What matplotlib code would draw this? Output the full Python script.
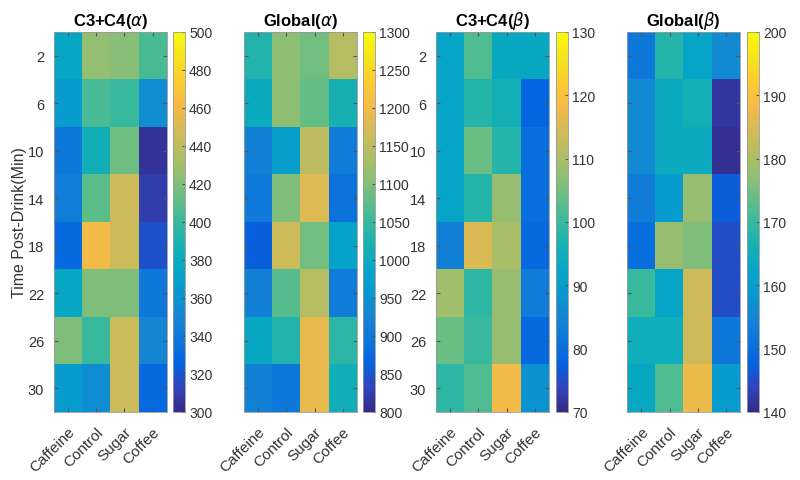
import numpy as np
import matplotlib
matplotlib.use('Agg')
import matplotlib.pyplot as plt
from matplotlib.colors import LinearSegmentedColormap

plt.rcParams['font.family'] = ['Liberation Sans', 'DejaVu Sans']

# data
drinks = ['Caffeine', 'Control', 'Sugar', 'Coffee']
times = [2, 6, 10, 14, 18, 22, 26, 30]

c34_alpha = [[375, 425, 422, 405],
             [365, 405, 400, 355],
             [340, 385, 415, 305],
             [345, 410, 445, 310],
             [330, 460, 445, 318],
             [375, 420, 420, 340],
             [420, 400, 445, 350],
             [365, 355, 445, 330]]
glob_alpha = [[1030, 1110, 1090, 1140],
              [1000, 1110, 1080, 1020],
              [920, 970, 1150, 910],
              [905, 1100, 1180, 890],
              [860, 1165, 1090, 980],
              [920, 1070, 1140, 910],
              [990, 1030, 1190, 1040],
              [920, 900, 1190, 1010]]
c34_beta = [[92, 102, 93, 93],
            [92, 98, 96, 78],
            [92, 104, 98, 80],
            [92, 98, 108, 80],
            [84, 115, 110, 79],
            [109, 99, 108, 83],
            [104, 100, 108, 79],
            [99, 102, 118, 88]]
glob_beta = [[152, 168, 162, 156],
             [156, 164, 166, 142],
             [156, 164, 164, 141],
             [153, 160, 178, 147],
             [150, 178, 176, 145],
             [170, 162, 184, 145],
             [165, 165, 184, 152],
             [163, 172, 187, 160]]

titles = [r'C3+C4($\alpha$)', r'Global($\alpha$)', r'C3+C4($\beta$)', r'Global($\beta$)']
limits = [(300, 500), (800, 1300), (70, 130), (140, 200)]
cb_steps = [20, 50, 10, 10]

# approximate MATLAB parula
parula_pts = [
    (0.2081, 0.1663, 0.5292), (0.1959, 0.2645, 0.7279), (0.0117, 0.3875, 0.8820),
    (0.0498, 0.4586, 0.8641), (0.0793, 0.5200, 0.8312), (0.0343, 0.5966, 0.8199),
    (0.0228, 0.6535, 0.7768), (0.0843, 0.6928, 0.7062), (0.2178, 0.7250, 0.6193),
    (0.3953, 0.7459, 0.5244), (0.5709, 0.7485, 0.4494), (0.7184, 0.7411, 0.3905),
    (0.8507, 0.7299, 0.3360), (0.9739, 0.7314, 0.2666), (0.9880, 0.8066, 0.1794),
    (0.9589, 0.8949, 0.1132), (0.9763, 0.9831, 0.0538)]
parula = LinearSegmentedColormap.from_list('parula', parula_pts)

fig = plt.figure(figsize=(8, 4.81), dpi=100)

ax_left = [0.0675, 0.305, 0.545, 0.784]
cb_left = [0.216, 0.454, 0.695, 0.934]
bottom, height = 0.1414, 0.790
edge = '#555555'

for i, data in enumerate([c34_alpha, glob_alpha, c34_beta, glob_beta]):
    ax = fig.add_axes([ax_left[i], bottom, 0.141, height])
    vmin, vmax = limits[i]
    im = ax.imshow(np.array(data), cmap=parula, vmin=vmin, vmax=vmax,
                   aspect='auto', interpolation='nearest')
    ax.set_title(titles[i], fontsize=12, fontweight='bold', pad=5)
    ax.set_xticks(range(len(drinks)))
    ax.set_xticklabels(drinks, rotation=45, ha='right', rotation_mode='anchor',
                       fontsize=11, color='#333333')
    ax.set_yticks(range(len(times)))
    if i in (0, 2):
        ax.set_yticklabels(times, fontsize=10.5, color='#333333')
    else:
        ax.set_yticklabels([])
    ax.tick_params(direction='in', length=3, color=edge, top=True, right=True)
    ax.tick_params(axis='x', pad=9)
    ax.tick_params(axis='y', pad=7)
    for s in ax.spines.values():
        s.set_color('#999999')
        s.set_linewidth(0.6)
    if i == 0:
        ax.set_ylabel('Time Post-Drink(Min)', fontsize=11.5, color='#333333', labelpad=1)

    cax = fig.add_axes([cb_left[i], bottom, 0.015, height])
    cb = fig.colorbar(im, cax=cax)
    cb.set_ticks(np.arange(vmin, vmax + 1, cb_steps[i]))
    cb.ax.tick_params(labelsize=10, direction='in', length=2, color=edge,
                      labelcolor='#333333', pad=3)
    cb.outline.set_edgecolor('#999999')
    cb.outline.set_linewidth(0.6)

fig.savefig('out.png', dpi=100)
